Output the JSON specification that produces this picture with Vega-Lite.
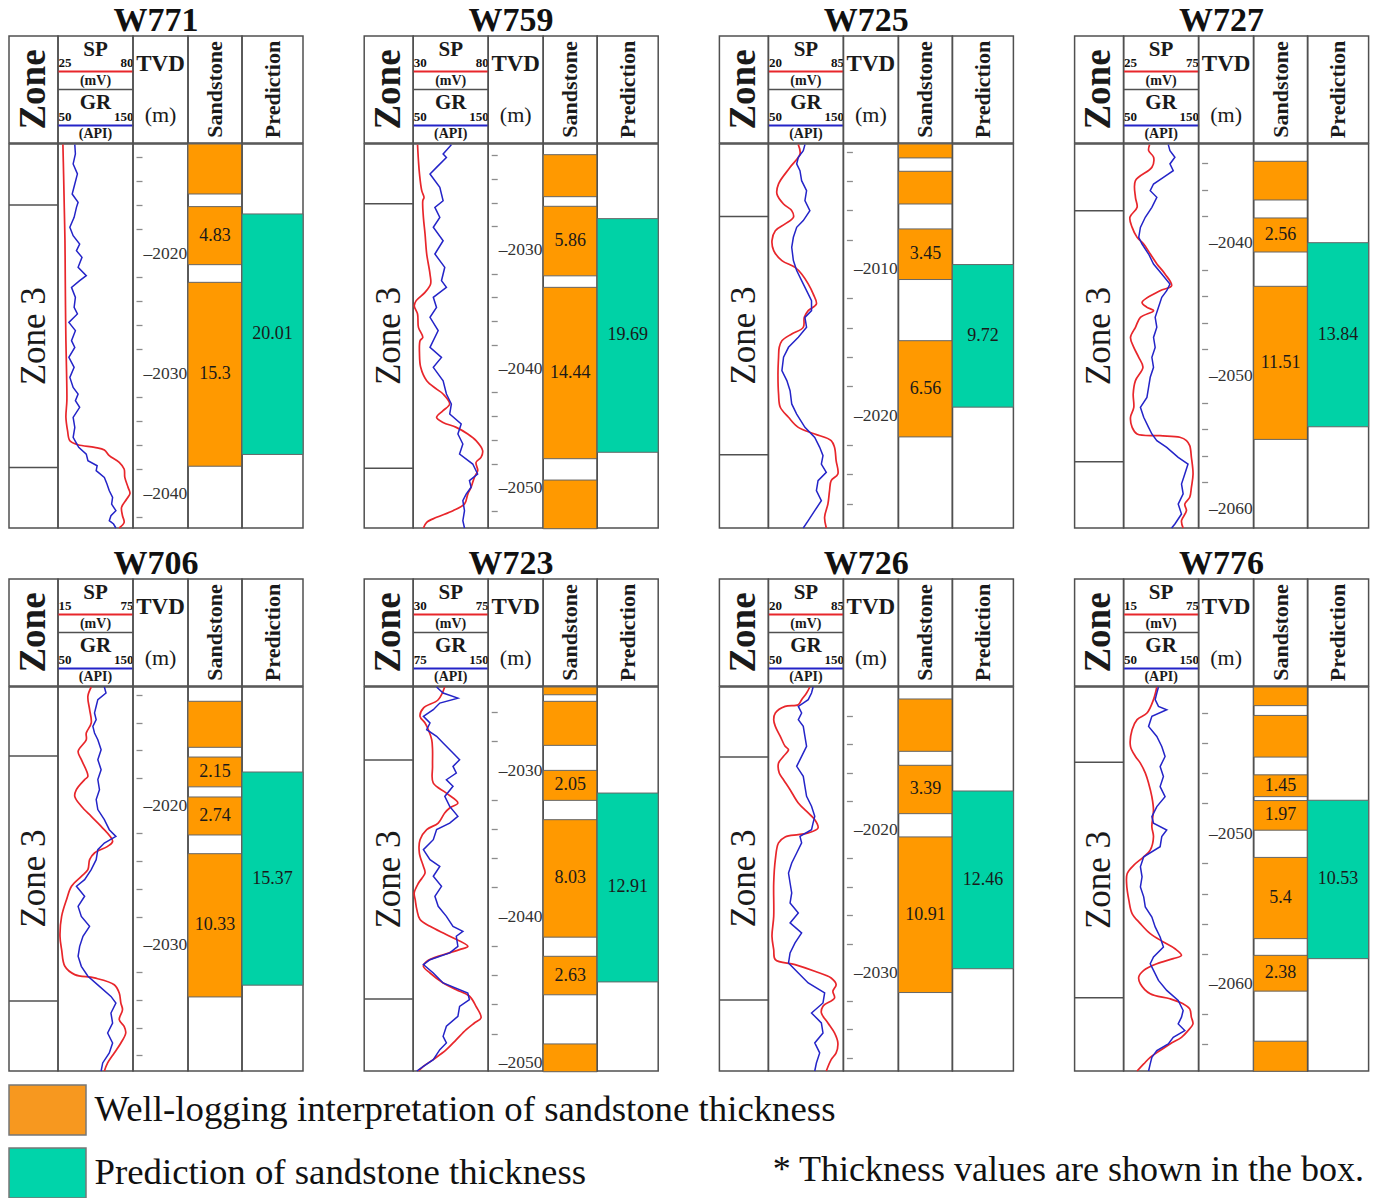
{
"$schema":"https://vega.github.io/schema/vega-lite/v6.json",
"background":"white",
"padding":{"left":7,"top":4,"right":0,"bottom":0},
"config":{
 "font":"Liberation Serif",
 "view":{"stroke":"#505050","strokeWidth":1.5},
 "title":{"fontSize":34,"fontWeight":"bold","color":"#111","anchor":"middle","offset":-3},
 "axis":{"grid":false,"ticks":false,"tickSize":0,"domain":false,"labelColor":"#111","labelFont":"Liberation Serif"},
 "text":{"color":"#1a1a1a"},
 "line":{"clip":true},
 "rect":{"clip":true}
},
"datasets":{
 "zones":[
  {"w":"W771","zone":"Zone 3","top":2016.0,"base":2037.85},
  {"w":"W759","zone":"Zone 3","top":2026.1,"base":2048.4},
  {"w":"W725","zone":"Zone 3","top":2006.43,"base":2022.66},
  {"w":"W727","zone":"Zone 3","top":2037.57,"base":2056.44},
  {"w":"W706","zone":"Zone 3","top":2016.42,"base":2034.09},
  {"w":"W723","zone":"Zone 3","top":2029.29,"base":2045.63},
  {"w":"W726","zone":"Zone 3","top":2014.91,"base":2031.94},
  {"w":"W776","zone":"Zone 3","top":2045.27,"base":2060.93}
 ],
 "beds":[
  {"w":"W771","top":2010.93,"t":4.16,"labelled":false},
  {"w":"W771","top":2016.14,"t":4.83,"labelled":true},
  {"w":"W771","top":2022.44,"t":15.3,"labelled":true},
  {"w":"W759","top":2021.97,"t":3.54,"labelled":false},
  {"w":"W759","top":2026.32,"t":5.86,"labelled":true},
  {"w":"W759","top":2033.15,"t":14.44,"labelled":true},
  {"w":"W759","top":2049.39,"t":4.1,"labelled":false},
  {"w":"W725","top":2001.48,"t":0.95,"labelled":false},
  {"w":"W725","top":2003.34,"t":2.23,"labelled":false},
  {"w":"W725","top":2007.27,"t":3.45,"labelled":true},
  {"w":"W725","top":2014.89,"t":6.56,"labelled":true},
  {"w":"W727","top":2033.86,"t":2.91,"labelled":false},
  {"w":"W727","top":2038.12,"t":2.56,"labelled":true},
  {"w":"W727","top":2043.26,"t":11.51,"labelled":true},
  {"w":"W706","top":2012.47,"t":3.32,"labelled":false},
  {"w":"W706","top":2016.49,"t":2.15,"labelled":true},
  {"w":"W706","top":2019.37,"t":2.74,"labelled":true},
  {"w":"W706","top":2023.46,"t":10.33,"labelled":true},
  {"w":"W723","top":2024.3,"t":0.53,"labelled":false},
  {"w":"W723","top":2025.28,"t":3.01,"labelled":false},
  {"w":"W723","top":2030.0,"t":2.05,"labelled":true},
  {"w":"W723","top":2033.37,"t":8.03,"labelled":true},
  {"w":"W723","top":2042.71,"t":2.63,"labelled":true},
  {"w":"W723","top":2048.7,"t":1.9,"labelled":false},
  {"w":"W726","top":2010.84,"t":3.67,"labelled":false},
  {"w":"W726","top":2015.49,"t":3.39,"labelled":true},
  {"w":"W726","top":2020.51,"t":10.91,"labelled":true},
  {"w":"W776","top":2040.27,"t":1.24,"labelled":false},
  {"w":"W776","top":2042.16,"t":2.77,"labelled":false},
  {"w":"W776","top":2046.11,"t":1.45,"labelled":true},
  {"w":"W776","top":2047.82,"t":1.97,"labelled":true},
  {"w":"W776","top":2051.6,"t":5.4,"labelled":true},
  {"w":"W776","top":2058.11,"t":2.38,"labelled":true},
  {"w":"W776","top":2063.82,"t":2.0,"labelled":false}
 ],
 "pred":[
  {"w":"W771","top":2016.75,"t":20.01},
  {"w":"W759","top":2027.36,"t":19.69},
  {"w":"W725","top":2009.7,"t":9.72},
  {"w":"W727","top":2039.98,"t":13.84},
  {"w":"W706","top":2017.57,"t":15.37},
  {"w":"W723","top":2031.55,"t":12.91},
  {"w":"W726","top":2017.29,"t":12.46},
  {"w":"W776","top":2047.8,"t":10.53}
 ],
 "logs":[
  {"w":"W771","c":"SP","p":[[2010.98,28.6],[2013.42,29.1],[2016.2,29.6],[2018.97,30.1],[2021.75,30.3],[2024.52,30.5],[2027.29,30.8],[2030.07,31.3],[2032.29,31.5],[2033.67,30.8],[2034.78,32.0],[2035.62,33.7],[2035.95,39.7],[2036.17,51.8],[2036.39,59.0],[2036.86,62.6],[2037.42,69.9],[2037.97,73.5],[2038.67,74.0],[2039.5,76.4],[2040.0,77.8],[2040.47,75.4],[2041.16,71.6],[2041.86,72.3],[2042.41,73.5],[2042.88,69.9]]},
  {"w":"W771","c":"GR","p":[[2010.98,72.4],[2011.76,73.2],[2012.59,70.2],[2013.42,75.9],[2014.26,72.4],[2015.09,68.9],[2015.78,76.8],[2016.2,74.6],[2017.03,71.5],[2017.86,65.8],[2018.56,70.2],[2019.25,78.9],[2019.8,74.6],[2020.36,82.0],[2021.19,76.8],[2021.88,87.7],[2022.3,78.9],[2022.86,68.0],[2023.69,73.2],[2024.52,71.5],[2025.07,75.9],[2025.77,64.5],[2026.46,73.2],[2027.29,68.0],[2027.85,72.4],[2028.68,64.5],[2029.51,71.5],[2030.35,65.8],[2031.18,70.2],[2031.73,76.8],[2032.29,73.2],[2032.84,78.9],[2033.67,70.2],[2034.51,72.4],[2035.34,70.2],[2036.17,77.6],[2036.73,87.7],[2037.28,89.9],[2037.7,102.2],[2038.11,100.9],[2038.67,111.8],[2039.22,115.3],[2039.78,118.4],[2040.33,122.8],[2040.89,121.5],[2041.44,127.2],[2041.86,120.6],[2042.27,118.4],[2042.55,124.1],[2042.88,127.2]]},
  {"w":"W759","c":"SP","p":[[2021.13,32.9],[2022.48,33.5],[2023.6,34.2],[2025.0,35.7],[2025.57,37.2],[2025.85,36.4],[2027.25,36.8],[2028.66,37.9],[2030.34,39.0],[2032.03,41.2],[2032.87,41.6],[2033.57,37.9],[2034.27,32.0],[2034.7,30.7],[2035.4,32.9],[2036.52,33.5],[2037.36,36.4],[2037.64,34.6],[2038.77,34.2],[2039.89,35.0],[2041.02,39.0],[2041.72,45.6],[2042.14,49.9],[2042.98,54.3],[2043.54,49.9],[2044.11,45.6],[2044.53,49.9],[2044.95,58.7],[2045.51,66.4],[2046.07,71.9],[2046.91,76.3],[2047.48,75.2],[2047.9,71.9],[2048.6,73.0],[2049.16,70.8],[2050.0,68.6],[2050.57,66.4],[2051.41,64.2],[2051.97,56.5],[2052.53,45.6],[2052.95,39.0],[2053.43,36.8]]},
  {"w":"W759","c":"GR","p":[[2021.13,100.9],[2021.91,89.9],[2022.2,94.3],[2023.04,81.1],[2023.6,72.4],[2024.72,85.5],[2025.85,89.9],[2026.41,78.9],[2027.25,85.5],[2028.09,76.8],[2029.22,89.9],[2030.34,78.9],[2031.46,92.1],[2032.59,87.7],[2033.15,94.3],[2033.99,76.8],[2034.84,81.1],[2035.68,72.4],[2036.8,83.3],[2038.21,72.4],[2039.05,87.7],[2039.89,76.8],[2041.02,89.9],[2042.14,94.3],[2042.98,100.9],[2043.82,98.7],[2044.67,114.0],[2045.51,109.6],[2046.35,116.2],[2047.2,111.8],[2048.04,129.4],[2048.88,135.9],[2049.44,125.0],[2050.0,127.2],[2050.57,120.6],[2051.13,116.2],[2051.97,118.4],[2052.81,116.2],[2053.43,118.4]]},
  {"w":"W725","c":"SP","p":[[2001.52,45.9],[2002.16,47.4],[2003.07,38.8],[2004.2,28.8],[2004.89,27.4],[2005.57,33.1],[2006.02,40.2],[2006.48,41.7],[2006.93,34.5],[2007.39,26.0],[2008.07,23.1],[2008.75,24.6],[2009.43,31.7],[2009.89,43.1],[2010.34,48.8],[2011.02,54.5],[2011.7,58.8],[2012.39,61.6],[2012.84,54.5],[2013.3,51.1],[2013.98,50.2],[2014.43,40.2],[2014.89,31.7],[2015.34,29.4],[2016.02,28.8],[2017.16,28.3],[2018.52,28.8],[2019.43,30.3],[2020.11,37.4],[2020.8,45.9],[2021.25,60.2],[2021.7,74.4],[2022.16,77.3],[2023.07,78.7],[2023.98,80.2],[2024.43,74.4],[2025.11,73.0],[2026.02,71.6],[2026.93,68.7],[2027.66,70.2]]},
  {"w":"W725","c":"GR","p":[[2001.52,98.7],[2001.93,96.5],[2002.39,89.9],[2002.84,87.7],[2003.3,92.1],[2003.98,94.3],[2004.66,100.9],[2005.34,98.7],[2006.02,105.3],[2006.7,96.5],[2007.16,87.7],[2007.84,83.3],[2008.52,81.1],[2009.43,83.3],[2010.11,87.7],[2010.8,94.3],[2011.48,100.9],[2012.16,107.5],[2012.84,107.5],[2013.3,98.7],[2013.98,100.9],[2014.66,89.9],[2015.34,76.8],[2016.02,70.2],[2016.93,68.0],[2017.61,74.6],[2018.3,78.9],[2019.2,81.1],[2019.89,87.7],[2020.8,98.7],[2021.48,111.8],[2022.16,118.4],[2022.73,122.8],[2023.3,120.6],[2023.86,127.2],[2024.43,116.2],[2025.11,114.0],[2025.8,120.6],[2026.48,111.8],[2027.16,103.1],[2027.66,96.5]]},
  {"w":"W727","c":"SP","p":[[2032.61,42.3],[2033.06,41.7],[2033.56,45.0],[2034.31,43.9],[2035.32,32.9],[2036.57,32.9],[2037.32,34.0],[2038.07,29.2],[2038.83,30.7],[2039.58,34.0],[2040.08,38.4],[2040.83,42.8],[2041.58,47.2],[2042.33,52.6],[2043.21,57.0],[2043.59,49.3],[2044.46,37.3],[2044.84,40.6],[2045.09,45.0],[2045.59,36.2],[2046.34,32.9],[2047.1,29.6],[2047.85,31.8],[2048.6,35.1],[2049.35,37.9],[2050.35,32.9],[2051.36,31.4],[2052.36,31.8],[2053.11,29.6],[2053.86,30.7],[2054.36,34.0],[2054.49,49.3],[2054.61,62.5],[2054.86,66.9],[2055.24,69.1],[2056.12,70.2],[2057.37,71.3],[2058.37,70.2],[2059.12,69.1],[2059.63,65.8],[2060.13,66.9],[2060.88,63.6],[2061.43,64.7]]},
  {"w":"W727","c":"GR","p":[[2032.61,109.6],[2033.06,111.8],[2033.56,118.4],[2034.06,111.8],[2034.57,116.2],[2035.07,103.1],[2035.57,89.9],[2036.07,85.5],[2036.57,94.3],[2037.32,87.7],[2038.07,78.9],[2038.83,72.4],[2039.58,70.2],[2040.08,74.6],[2040.83,83.3],[2041.58,89.9],[2042.33,100.9],[2043.09,111.8],[2043.59,107.5],[2044.09,100.9],[2044.84,96.5],[2045.59,92.1],[2046.34,94.3],[2047.1,89.9],[2047.85,92.1],[2048.6,87.7],[2049.35,89.9],[2050.1,85.5],[2050.85,83.3],[2051.61,81.1],[2052.36,72.4],[2053.11,76.8],[2053.86,83.3],[2054.36,87.7],[2054.86,94.3],[2055.37,107.5],[2056.12,122.8],[2056.62,135.9],[2057.37,131.6],[2058.12,127.2],[2058.87,129.4],[2059.63,122.8],[2060.38,127.2],[2061.13,118.4],[2061.43,114.0]]},
  {"w":"W706","c":"SP","p":[[2011.44,41.6],[2012.11,38.9],[2013.07,40.3],[2014.03,41.6],[2014.76,37.6],[2015.24,37.6],[2016.08,31.1],[2016.68,33.7],[2017.88,38.9],[2018.12,36.3],[2018.84,29.7],[2019.32,28.4],[2020.04,33.7],[2020.77,41.6],[2021.49,49.5],[2022.57,58.7],[2022.93,54.7],[2023.41,44.2],[2023.89,40.3],[2024.61,38.9],[2025.09,33.7],[2025.81,25.8],[2026.78,21.8],[2027.98,17.9],[2029.42,16.6],[2030.38,17.9],[2031.58,20.5],[2032.18,28.4],[2032.42,44.2],[2032.91,60.0],[2033.51,64.0],[2034.23,65.3],[2034.71,66.6],[2035.43,64.0],[2035.91,67.9],[2036.39,69.2],[2037.11,65.3],[2037.83,60.0],[2038.55,54.7],[2039.13,52.1]]},
  {"w":"W706","c":"GR","p":[[2011.44,111.8],[2011.87,114.0],[2012.35,103.1],[2012.83,100.9],[2013.31,98.7],[2013.79,100.9],[2014.28,96.5],[2014.76,98.7],[2015.24,103.1],[2015.96,107.5],[2016.68,103.1],[2017.4,107.5],[2018.12,103.1],[2018.84,105.3],[2019.56,100.9],[2020.28,103.1],[2021.01,111.8],[2021.73,118.4],[2022.21,127.2],[2022.69,111.8],[2023.17,103.1],[2023.89,100.9],[2024.61,94.3],[2025.33,85.5],[2025.81,74.6],[2026.53,85.5],[2027.26,76.8],[2027.98,81.1],[2028.7,92.1],[2029.42,83.3],[2030.14,78.9],[2030.86,76.8],[2031.58,81.1],[2032.3,89.9],[2033.03,105.3],[2033.75,120.6],[2034.23,127.2],[2034.95,120.6],[2035.67,122.8],[2036.39,116.2],[2037.11,122.8],[2037.83,118.4],[2038.55,109.6],[2039.13,107.5]]},
  {"w":"W723","c":"SP","p":[[2024.3,48.9],[2025.17,45.0],[2025.74,36.1],[2026.31,34.1],[2026.76,37.1],[2027.22,39.1],[2027.9,41.1],[2028.59,41.6],[2029.73,41.6],[2030.86,42.0],[2031.55,49.9],[2032.23,56.8],[2032.57,51.9],[2032.91,48.9],[2033.6,45.0],[2034.05,38.1],[2034.74,34.1],[2035.65,33.7],[2036.56,36.1],[2037.01,37.1],[2037.7,33.2],[2038.38,30.6],[2038.84,31.2],[2039.52,32.2],[2040.2,34.1],[2040.66,40.1],[2041.34,51.9],[2042.03,62.8],[2042.25,57.8],[2042.6,48.0],[2043.05,38.1],[2043.39,36.1],[2043.85,40.1],[2044.53,48.0],[2044.99,55.9],[2045.44,63.8],[2046.13,67.7],[2046.92,70.7],[2047.27,66.7],[2047.72,61.8],[2048.4,55.9],[2049.09,49.9],[2049.77,42.0],[2050.23,36.1],[2050.55,33.2]]},
  {"w":"W723","c":"GR","p":[[2024.3,98.4],[2024.71,104.9],[2025.06,119.7],[2025.4,101.6],[2025.85,95.1],[2026.31,85.2],[2026.76,91.8],[2027.22,88.5],[2027.67,98.4],[2028.13,104.9],[2028.81,114.8],[2029.27,121.4],[2029.73,114.8],[2030.18,118.1],[2030.64,108.2],[2031.09,114.8],[2031.78,106.6],[2032.46,111.5],[2033.14,119.7],[2033.6,111.5],[2034.05,98.4],[2034.74,95.1],[2035.42,85.2],[2036.1,91.8],[2036.56,101.6],[2037.24,95.1],[2037.93,103.3],[2038.61,96.7],[2039.29,100.0],[2039.98,108.2],[2040.66,114.8],[2041.0,124.7],[2041.34,118.1],[2042.03,119.7],[2042.48,111.5],[2042.94,91.8],[2043.28,85.2],[2043.85,95.1],[2044.53,104.9],[2045.22,129.6],[2045.67,131.2],[2046.13,121.4],[2046.81,119.7],[2047.49,108.2],[2048.18,104.9],[2048.63,108.2],[2049.09,101.6],[2049.77,95.1],[2050.23,85.2],[2050.55,78.6]]},
  {"w":"W726","c":"SP","p":[[2010.0,55.9],[2010.42,53.1],[2010.89,48.8],[2011.24,45.9],[2011.36,34.5],[2011.82,26.0],[2012.29,24.6],[2012.76,26.0],[2013.46,30.3],[2014.16,34.5],[2014.39,37.4],[2014.86,33.1],[2015.33,28.8],[2016.03,29.4],[2016.5,33.1],[2017.2,38.8],[2018.13,45.9],[2018.83,54.5],[2019.3,60.2],[2019.88,63.0],[2020.23,54.5],[2020.35,45.9],[2020.51,34.5],[2020.93,28.8],[2022.1,26.0],[2023.74,24.6],[2026.08,24.6],[2027.48,23.1],[2028.41,24.6],[2029.11,26.0],[2029.46,43.1],[2029.93,60.2],[2030.4,74.4],[2030.86,78.7],[2031.33,75.9],[2031.8,77.3],[2032.38,67.3],[2032.85,65.9],[2033.55,71.6],[2034.25,77.3],[2034.95,80.2],[2035.65,78.7],[2036.12,74.4],[2036.92,70.2]]},
  {"w":"W726","c":"GR","p":[[2010.0,109.6],[2010.42,107.5],[2010.89,103.1],[2011.36,89.9],[2011.82,94.3],[2012.29,89.9],[2012.76,96.5],[2013.46,98.7],[2014.16,100.9],[2014.86,94.3],[2015.56,87.7],[2016.26,96.5],[2016.96,98.7],[2017.66,100.9],[2018.36,107.5],[2019.07,111.8],[2019.53,109.6],[2020.0,107.5],[2020.47,92.1],[2020.93,94.3],[2021.64,87.7],[2022.34,81.1],[2023.04,76.8],[2023.74,78.9],[2024.44,81.1],[2025.14,78.9],[2025.84,89.9],[2026.54,78.9],[2027.24,94.3],[2027.94,85.5],[2028.64,78.9],[2029.35,76.8],[2030.05,89.9],[2030.75,103.1],[2031.45,125.0],[2032.15,122.8],[2032.85,107.5],[2033.55,120.6],[2034.25,122.8],[2034.95,111.8],[2035.65,118.4],[2036.36,114.0],[2036.92,111.8]]},
  {"w":"W776","c":"SP","p":[[2040.27,41.6],[2041.11,38.9],[2042.0,33.7],[2042.44,25.8],[2043.11,21.8],[2044.22,20.5],[2044.89,24.5],[2045.33,28.4],[2046.0,32.4],[2046.67,35.0],[2047.56,37.6],[2048.44,38.9],[2049.56,37.6],[2050.22,38.9],[2051.11,36.3],[2051.56,31.1],[2052.11,23.2],[2052.67,17.9],[2053.33,17.4],[2054.44,19.2],[2055.33,21.8],[2056.0,28.4],[2056.67,36.3],[2057.22,46.8],[2057.67,56.1],[2058.11,61.3],[2058.33,54.7],[2058.67,41.6],[2059.11,31.1],[2059.56,27.1],[2060.0,28.4],[2060.67,36.3],[2061.0,52.1],[2061.33,62.6],[2061.67,67.9],[2062.22,69.2],[2062.67,70.5],[2063.11,66.6],[2063.56,61.3],[2064.0,52.1],[2064.44,44.2],[2064.89,36.3],[2065.33,31.1],[2065.8,25.8]]},
  {"w":"W776","c":"GR","p":[[2040.27,96.5],[2040.67,94.3],[2041.11,92.1],[2041.56,96.5],[2041.78,107.5],[2042.22,87.7],[2042.89,83.3],[2043.56,94.3],[2044.22,100.9],[2044.89,105.3],[2045.56,98.7],[2046.22,103.1],[2046.89,98.7],[2047.56,105.3],[2048.22,94.3],[2048.89,87.7],[2049.33,89.9],[2049.78,107.5],[2050.22,100.9],[2050.89,98.7],[2051.56,76.8],[2052.22,72.4],[2052.89,74.6],[2053.56,72.4],[2054.22,76.8],[2054.89,78.9],[2055.56,87.7],[2056.22,92.1],[2056.89,98.7],[2057.56,103.1],[2058.22,89.9],[2058.67,85.5],[2059.11,89.9],[2059.78,96.5],[2060.44,107.5],[2061.11,122.8],[2061.78,129.4],[2062.22,127.2],[2062.67,122.8],[2063.11,131.6],[2063.56,116.2],[2064.0,109.6],[2064.44,94.3],[2064.89,87.7],[2065.33,85.5],[2065.8,83.3]]}
 ]
},
"spacing":8,
"vconcat":[
{"spacing":14,"vconcat":[
{"spacing":57.2,"hconcat":[
{"title":"W771","spacing":-6.5,"vconcat":[
{"bounds":"flush","spacing":0,"hconcat":[
{"width":49,"height":107,"data":{"values":[{}]},"mark":{"type":"text","text":"Zone","angle":270,"fontSize":37,"fontWeight":"bold"},"encoding":{"y":{"datum":0.5,"type":"quantitative","scale":{"domain":[0,1],"reverse":true,"nice":false,"zero":false},"axis":null}}},
{"width":75,"height":107,"data":{"values":[{}]},"resolve":{"scale":{"x":"independent"},"axis":{"x":"independent"}},"layer":[
{"mark":{"type":"rule","color":"#505050","strokeWidth":1.5},"encoding":{"x":{"datum":25,"type":"quantitative","scale":{"domain":[25,80],"nice":false,"zero":false},"axis":{"orient":"top","offset":-35,"values":[25,80],"domain":true,"domainColor":"#e8262b","domainWidth":2,"labelFlush":true,"labelPadding":2,"labelFontSize":13,"labelFontWeight":"bold","title":null}},"x2":{"datum":80}}},
{"mark":{"type":"text","text":"SP","fontSize":21,"fontWeight":"bold"},"encoding":{"y":{"datum":0.131,"type":"quantitative","scale":{"domain":[0,1],"reverse":true,"nice":false,"zero":false},"axis":null}}},
{"mark":{"type":"text","text":"(mV)","fontSize":14,"fontWeight":"bold"},"encoding":{"y":{"datum":0.42,"type":"quantitative","axis":null}}},
{"mark":{"type":"text","text":"GR","fontSize":21,"fontWeight":"bold"},"encoding":{"y":{"datum":0.626,"type":"quantitative","axis":null},"x":{"datum":100,"type":"quantitative","scale":{"domain":[50,150],"nice":false,"zero":false},"axis":{"orient":"top","offset":-89,"values":[50,150],"domain":true,"domainColor":"#2424c8","domainWidth":2,"labelFlush":true,"labelPadding":2,"labelFontSize":13,"labelFontWeight":"bold","title":null}}}},
{"mark":{"type":"text","text":"(API)","fontSize":14,"fontWeight":"bold"},"encoding":{"y":{"datum":0.916,"type":"quantitative","axis":null}}}]},
{"width":55,"height":107,"data":{"values":[{}]},"layer":[
{"mark":{"type":"text","text":"TVD","fontSize":23,"fontWeight":"bold"},"encoding":{"y":{"datum":0.262,"type":"quantitative","scale":{"domain":[0,1],"reverse":true,"nice":false,"zero":false},"axis":null}}},
{"mark":{"type":"text","text":"(m)","fontSize":22},"encoding":{"y":{"datum":0.738,"type":"quantitative","axis":null}}}]},
{"width":54,"height":107,"data":{"values":[{}]},"mark":{"type":"text","text":"Sandstone","angle":270,"fontSize":22,"fontWeight":"bold"},"encoding":{"y":{"datum":0.5,"type":"quantitative","scale":{"domain":[0,1],"reverse":true,"nice":false,"zero":false},"axis":null}}},
{"width":61,"height":107,"data":{"values":[{}]},"mark":{"type":"text","text":"Prediction","angle":270,"fontSize":22,"fontWeight":"bold"},"encoding":{"y":{"datum":0.5,"type":"quantitative","scale":{"domain":[0,1],"reverse":true,"nice":false,"zero":false},"axis":null}}}]},
{"bounds":"flush","spacing":0,"hconcat":[
{"width":49,"height":384,"data":{"name":"zones"},"transform":[{"filter":"datum.w=='W771'"},{"calculate":"(datum.top+datum.base)/2","as":"mid"}],"layer":[
{"mark":{"type":"rule","color":"#505050","strokeWidth":1.5},"encoding":{"y":{"field":"top","type":"quantitative","scale":{"domain":[2010.93,2042.88],"reverse":true,"nice":false,"zero":false},"axis":null}}},
{"mark":{"type":"rule","color":"#505050","strokeWidth":1.5},"encoding":{"y":{"field":"base","type":"quantitative","axis":null}}},
{"mark":{"type":"text","angle":270,"fontSize":35},"encoding":{"y":{"field":"mid","type":"quantitative","axis":null},"text":{"field":"zone"}}}]},
{"width":75,"height":384,"data":{"name":"logs"},"transform":[{"filter":"datum.w=='W771'"},{"flatten":["p"]},{"calculate":"datum.p[0]","as":"d"},{"calculate":"datum.p[1]","as":"v"}],"resolve":{"scale":{"x":"independent"}},"encoding":{"y":{"field":"d","type":"quantitative","scale":{"domain":[2010.93,2042.88],"reverse":true,"nice":false,"zero":false},"axis":null},"order":{"field":"d","type":"quantitative"}},"layer":[
{"transform":[{"filter":"datum.c=='SP'"}],"mark":{"type":"line","color":"#e8262b","strokeWidth":1.7,"interpolate":"catmull-rom"},"encoding":{"x":{"field":"v","type":"quantitative","scale":{"domain":[25,80],"nice":false,"zero":false},"axis":null}}},
{"transform":[{"filter":"datum.c=='GR'"}],"mark":{"type":"line","color":"#2424c8","strokeWidth":1.5},"encoding":{"x":{"field":"v","type":"quantitative","scale":{"domain":[50,150],"nice":false,"zero":false},"axis":null}}}]},
{"width":55,"height":384,"data":{"name":"zones"},"transform":[{"filter":"datum.w=='W771'"}],"mark":{"type":"rule","strokeOpacity":0},"encoding":{"y":{"field":"top","type":"quantitative","scale":{"domain":[2010.93,2042.88],"reverse":true,"nice":false,"zero":false},"axis":{"orient":"right","offset":-52,"values":[2012,2014,2016,2018,2020,2022,2024,2026,2028,2030,2032,2034,2036,2038,2040,2042],"format":"d","labelExpr":"datum.value % 10 == 0 ? '–' + datum.label : ''","ticks":true,"tickSize":6,"tickColor":"#8c8c8c","tickWidth":1.3,"tickOpacity":{"condition":{"test":"datum.value % 10 == 0","value":0},"value":1},"labelPadding":1,"labelFontSize":17.5,"labelColor":"#333","labelOverlap":false,"title":null}}}},
{"width":54,"height":384,"data":{"name":"beds"},"transform":[{"filter":"datum.w=='W771'"},{"calculate":"datum.top+datum.t","as":"base"},{"calculate":"datum.top+datum.t/2","as":"mid"}],"layer":[
{"mark":{"type":"rect","fill":"#ff9900","stroke":"#666","strokeWidth":1},"encoding":{"y":{"field":"top","type":"quantitative","scale":{"domain":[2010.93,2042.88],"reverse":true,"nice":false,"zero":false},"axis":null},"y2":{"field":"base"}}},
{"transform":[{"filter":"datum.labelled"}],"mark":{"type":"text","fontSize":18},"encoding":{"y":{"field":"mid","type":"quantitative","axis":null},"text":{"field":"t","type":"nominal"}}}]},
{"width":61,"height":384,"data":{"name":"pred"},"transform":[{"filter":"datum.w=='W771'"},{"calculate":"datum.top+datum.t","as":"base"},{"calculate":"datum.top+datum.t/2","as":"mid"}],"layer":[
{"mark":{"type":"rect","fill":"#00d2a6","stroke":"#666","strokeWidth":1},"encoding":{"y":{"field":"top","type":"quantitative","scale":{"domain":[2010.93,2042.88],"reverse":true,"nice":false,"zero":false},"axis":null},"y2":{"field":"base"}}},
{"mark":{"type":"text","fontSize":18},"encoding":{"y":{"field":"mid","type":"quantitative","axis":null},"text":{"field":"t","type":"nominal"}}}]}
]}]},
{"title":"W759","spacing":-6.5,"vconcat":[
{"bounds":"flush","spacing":0,"hconcat":[
{"width":49,"height":107,"data":{"values":[{}]},"mark":{"type":"text","text":"Zone","angle":270,"fontSize":37,"fontWeight":"bold"},"encoding":{"y":{"datum":0.5,"type":"quantitative","scale":{"domain":[0,1],"reverse":true,"nice":false,"zero":false},"axis":null}}},
{"width":75,"height":107,"data":{"values":[{}]},"resolve":{"scale":{"x":"independent"},"axis":{"x":"independent"}},"layer":[
{"mark":{"type":"rule","color":"#505050","strokeWidth":1.5},"encoding":{"x":{"datum":30,"type":"quantitative","scale":{"domain":[30,80],"nice":false,"zero":false},"axis":{"orient":"top","offset":-35,"values":[30,80],"domain":true,"domainColor":"#e8262b","domainWidth":2,"labelFlush":true,"labelPadding":2,"labelFontSize":13,"labelFontWeight":"bold","title":null}},"x2":{"datum":80}}},
{"mark":{"type":"text","text":"SP","fontSize":21,"fontWeight":"bold"},"encoding":{"y":{"datum":0.131,"type":"quantitative","scale":{"domain":[0,1],"reverse":true,"nice":false,"zero":false},"axis":null}}},
{"mark":{"type":"text","text":"(mV)","fontSize":14,"fontWeight":"bold"},"encoding":{"y":{"datum":0.42,"type":"quantitative","axis":null}}},
{"mark":{"type":"text","text":"GR","fontSize":21,"fontWeight":"bold"},"encoding":{"y":{"datum":0.626,"type":"quantitative","axis":null},"x":{"datum":100,"type":"quantitative","scale":{"domain":[50,150],"nice":false,"zero":false},"axis":{"orient":"top","offset":-89,"values":[50,150],"domain":true,"domainColor":"#2424c8","domainWidth":2,"labelFlush":true,"labelPadding":2,"labelFontSize":13,"labelFontWeight":"bold","title":null}}}},
{"mark":{"type":"text","text":"(API)","fontSize":14,"fontWeight":"bold"},"encoding":{"y":{"datum":0.916,"type":"quantitative","axis":null}}}]},
{"width":55,"height":107,"data":{"values":[{}]},"layer":[
{"mark":{"type":"text","text":"TVD","fontSize":23,"fontWeight":"bold"},"encoding":{"y":{"datum":0.262,"type":"quantitative","scale":{"domain":[0,1],"reverse":true,"nice":false,"zero":false},"axis":null}}},
{"mark":{"type":"text","text":"(m)","fontSize":22},"encoding":{"y":{"datum":0.738,"type":"quantitative","axis":null}}}]},
{"width":54,"height":107,"data":{"values":[{}]},"mark":{"type":"text","text":"Sandstone","angle":270,"fontSize":22,"fontWeight":"bold"},"encoding":{"y":{"datum":0.5,"type":"quantitative","scale":{"domain":[0,1],"reverse":true,"nice":false,"zero":false},"axis":null}}},
{"width":61,"height":107,"data":{"values":[{}]},"mark":{"type":"text","text":"Prediction","angle":270,"fontSize":22,"fontWeight":"bold"},"encoding":{"y":{"datum":0.5,"type":"quantitative","scale":{"domain":[0,1],"reverse":true,"nice":false,"zero":false},"axis":null}}}]},
{"bounds":"flush","spacing":0,"hconcat":[
{"width":49,"height":384,"data":{"name":"zones"},"transform":[{"filter":"datum.w=='W759'"},{"calculate":"(datum.top+datum.base)/2","as":"mid"}],"layer":[
{"mark":{"type":"rule","color":"#505050","strokeWidth":1.5},"encoding":{"y":{"field":"top","type":"quantitative","scale":{"domain":[2021.07,2053.43],"reverse":true,"nice":false,"zero":false},"axis":null}}},
{"mark":{"type":"rule","color":"#505050","strokeWidth":1.5},"encoding":{"y":{"field":"base","type":"quantitative","axis":null}}},
{"mark":{"type":"text","angle":270,"fontSize":35},"encoding":{"y":{"field":"mid","type":"quantitative","axis":null},"text":{"field":"zone"}}}]},
{"width":75,"height":384,"data":{"name":"logs"},"transform":[{"filter":"datum.w=='W759'"},{"flatten":["p"]},{"calculate":"datum.p[0]","as":"d"},{"calculate":"datum.p[1]","as":"v"}],"resolve":{"scale":{"x":"independent"}},"encoding":{"y":{"field":"d","type":"quantitative","scale":{"domain":[2021.07,2053.43],"reverse":true,"nice":false,"zero":false},"axis":null},"order":{"field":"d","type":"quantitative"}},"layer":[
{"transform":[{"filter":"datum.c=='SP'"}],"mark":{"type":"line","color":"#e8262b","strokeWidth":1.7,"interpolate":"catmull-rom"},"encoding":{"x":{"field":"v","type":"quantitative","scale":{"domain":[30,80],"nice":false,"zero":false},"axis":null}}},
{"transform":[{"filter":"datum.c=='GR'"}],"mark":{"type":"line","color":"#2424c8","strokeWidth":1.5},"encoding":{"x":{"field":"v","type":"quantitative","scale":{"domain":[50,150],"nice":false,"zero":false},"axis":null}}}]},
{"width":55,"height":384,"data":{"name":"zones"},"transform":[{"filter":"datum.w=='W759'"}],"mark":{"type":"rule","strokeOpacity":0},"encoding":{"y":{"field":"top","type":"quantitative","scale":{"domain":[2021.07,2053.43],"reverse":true,"nice":false,"zero":false},"axis":{"orient":"right","offset":-52,"values":[2022,2024,2026,2028,2030,2032,2034,2036,2038,2040,2042,2044,2046,2048,2050,2052],"format":"d","labelExpr":"datum.value % 10 == 0 ? '–' + datum.label : ''","ticks":true,"tickSize":6,"tickColor":"#8c8c8c","tickWidth":1.3,"tickOpacity":{"condition":{"test":"datum.value % 10 == 0","value":0},"value":1},"labelPadding":1,"labelFontSize":17.5,"labelColor":"#333","labelOverlap":false,"title":null}}}},
{"width":54,"height":384,"data":{"name":"beds"},"transform":[{"filter":"datum.w=='W759'"},{"calculate":"datum.top+datum.t","as":"base"},{"calculate":"datum.top+datum.t/2","as":"mid"}],"layer":[
{"mark":{"type":"rect","fill":"#ff9900","stroke":"#666","strokeWidth":1},"encoding":{"y":{"field":"top","type":"quantitative","scale":{"domain":[2021.07,2053.43],"reverse":true,"nice":false,"zero":false},"axis":null},"y2":{"field":"base"}}},
{"transform":[{"filter":"datum.labelled"}],"mark":{"type":"text","fontSize":18},"encoding":{"y":{"field":"mid","type":"quantitative","axis":null},"text":{"field":"t","type":"nominal"}}}]},
{"width":61,"height":384,"data":{"name":"pred"},"transform":[{"filter":"datum.w=='W759'"},{"calculate":"datum.top+datum.t","as":"base"},{"calculate":"datum.top+datum.t/2","as":"mid"}],"layer":[
{"mark":{"type":"rect","fill":"#00d2a6","stroke":"#666","strokeWidth":1},"encoding":{"y":{"field":"top","type":"quantitative","scale":{"domain":[2021.07,2053.43],"reverse":true,"nice":false,"zero":false},"axis":null},"y2":{"field":"base"}}},
{"mark":{"type":"text","fontSize":18},"encoding":{"y":{"field":"mid","type":"quantitative","axis":null},"text":{"field":"t","type":"nominal"}}}]}
]}]},
{"title":"W725","spacing":-6.5,"vconcat":[
{"bounds":"flush","spacing":0,"hconcat":[
{"width":49,"height":107,"data":{"values":[{}]},"mark":{"type":"text","text":"Zone","angle":270,"fontSize":37,"fontWeight":"bold"},"encoding":{"y":{"datum":0.5,"type":"quantitative","scale":{"domain":[0,1],"reverse":true,"nice":false,"zero":false},"axis":null}}},
{"width":75,"height":107,"data":{"values":[{}]},"resolve":{"scale":{"x":"independent"},"axis":{"x":"independent"}},"layer":[
{"mark":{"type":"rule","color":"#505050","strokeWidth":1.5},"encoding":{"x":{"datum":20,"type":"quantitative","scale":{"domain":[20,85],"nice":false,"zero":false},"axis":{"orient":"top","offset":-35,"values":[20,85],"domain":true,"domainColor":"#e8262b","domainWidth":2,"labelFlush":true,"labelPadding":2,"labelFontSize":13,"labelFontWeight":"bold","title":null}},"x2":{"datum":85}}},
{"mark":{"type":"text","text":"SP","fontSize":21,"fontWeight":"bold"},"encoding":{"y":{"datum":0.131,"type":"quantitative","scale":{"domain":[0,1],"reverse":true,"nice":false,"zero":false},"axis":null}}},
{"mark":{"type":"text","text":"(mV)","fontSize":14,"fontWeight":"bold"},"encoding":{"y":{"datum":0.42,"type":"quantitative","axis":null}}},
{"mark":{"type":"text","text":"GR","fontSize":21,"fontWeight":"bold"},"encoding":{"y":{"datum":0.626,"type":"quantitative","axis":null},"x":{"datum":100,"type":"quantitative","scale":{"domain":[50,150],"nice":false,"zero":false},"axis":{"orient":"top","offset":-89,"values":[50,150],"domain":true,"domainColor":"#2424c8","domainWidth":2,"labelFlush":true,"labelPadding":2,"labelFontSize":13,"labelFontWeight":"bold","title":null}}}},
{"mark":{"type":"text","text":"(API)","fontSize":14,"fontWeight":"bold"},"encoding":{"y":{"datum":0.916,"type":"quantitative","axis":null}}}]},
{"width":55,"height":107,"data":{"values":[{}]},"layer":[
{"mark":{"type":"text","text":"TVD","fontSize":23,"fontWeight":"bold"},"encoding":{"y":{"datum":0.262,"type":"quantitative","scale":{"domain":[0,1],"reverse":true,"nice":false,"zero":false},"axis":null}}},
{"mark":{"type":"text","text":"(m)","fontSize":22},"encoding":{"y":{"datum":0.738,"type":"quantitative","axis":null}}}]},
{"width":54,"height":107,"data":{"values":[{}]},"mark":{"type":"text","text":"Sandstone","angle":270,"fontSize":22,"fontWeight":"bold"},"encoding":{"y":{"datum":0.5,"type":"quantitative","scale":{"domain":[0,1],"reverse":true,"nice":false,"zero":false},"axis":null}}},
{"width":61,"height":107,"data":{"values":[{}]},"mark":{"type":"text","text":"Prediction","angle":270,"fontSize":22,"fontWeight":"bold"},"encoding":{"y":{"datum":0.5,"type":"quantitative","scale":{"domain":[0,1],"reverse":true,"nice":false,"zero":false},"axis":null}}}]},
{"bounds":"flush","spacing":0,"hconcat":[
{"width":49,"height":384,"data":{"name":"zones"},"transform":[{"filter":"datum.w=='W725'"},{"calculate":"(datum.top+datum.base)/2","as":"mid"}],"layer":[
{"mark":{"type":"rule","color":"#505050","strokeWidth":1.5},"encoding":{"y":{"field":"top","type":"quantitative","scale":{"domain":[2001.48,2027.66],"reverse":true,"nice":false,"zero":false},"axis":null}}},
{"mark":{"type":"rule","color":"#505050","strokeWidth":1.5},"encoding":{"y":{"field":"base","type":"quantitative","axis":null}}},
{"mark":{"type":"text","angle":270,"fontSize":35},"encoding":{"y":{"field":"mid","type":"quantitative","axis":null},"text":{"field":"zone"}}}]},
{"width":75,"height":384,"data":{"name":"logs"},"transform":[{"filter":"datum.w=='W725'"},{"flatten":["p"]},{"calculate":"datum.p[0]","as":"d"},{"calculate":"datum.p[1]","as":"v"}],"resolve":{"scale":{"x":"independent"}},"encoding":{"y":{"field":"d","type":"quantitative","scale":{"domain":[2001.48,2027.66],"reverse":true,"nice":false,"zero":false},"axis":null},"order":{"field":"d","type":"quantitative"}},"layer":[
{"transform":[{"filter":"datum.c=='SP'"}],"mark":{"type":"line","color":"#e8262b","strokeWidth":1.7,"interpolate":"catmull-rom"},"encoding":{"x":{"field":"v","type":"quantitative","scale":{"domain":[20,85],"nice":false,"zero":false},"axis":null}}},
{"transform":[{"filter":"datum.c=='GR'"}],"mark":{"type":"line","color":"#2424c8","strokeWidth":1.5},"encoding":{"x":{"field":"v","type":"quantitative","scale":{"domain":[50,150],"nice":false,"zero":false},"axis":null}}}]},
{"width":55,"height":384,"data":{"name":"zones"},"transform":[{"filter":"datum.w=='W725'"}],"mark":{"type":"rule","strokeOpacity":0},"encoding":{"y":{"field":"top","type":"quantitative","scale":{"domain":[2001.48,2027.66],"reverse":true,"nice":false,"zero":false},"axis":{"orient":"right","offset":-52,"values":[2002,2004,2006,2008,2010,2012,2014,2016,2018,2020,2022,2024,2026],"format":"d","labelExpr":"datum.value % 10 == 0 ? '–' + datum.label : ''","ticks":true,"tickSize":6,"tickColor":"#8c8c8c","tickWidth":1.3,"tickOpacity":{"condition":{"test":"datum.value % 10 == 0","value":0},"value":1},"labelPadding":1,"labelFontSize":17.5,"labelColor":"#333","labelOverlap":false,"title":null}}}},
{"width":54,"height":384,"data":{"name":"beds"},"transform":[{"filter":"datum.w=='W725'"},{"calculate":"datum.top+datum.t","as":"base"},{"calculate":"datum.top+datum.t/2","as":"mid"}],"layer":[
{"mark":{"type":"rect","fill":"#ff9900","stroke":"#666","strokeWidth":1},"encoding":{"y":{"field":"top","type":"quantitative","scale":{"domain":[2001.48,2027.66],"reverse":true,"nice":false,"zero":false},"axis":null},"y2":{"field":"base"}}},
{"transform":[{"filter":"datum.labelled"}],"mark":{"type":"text","fontSize":18},"encoding":{"y":{"field":"mid","type":"quantitative","axis":null},"text":{"field":"t","type":"nominal"}}}]},
{"width":61,"height":384,"data":{"name":"pred"},"transform":[{"filter":"datum.w=='W725'"},{"calculate":"datum.top+datum.t","as":"base"},{"calculate":"datum.top+datum.t/2","as":"mid"}],"layer":[
{"mark":{"type":"rect","fill":"#00d2a6","stroke":"#666","strokeWidth":1},"encoding":{"y":{"field":"top","type":"quantitative","scale":{"domain":[2001.48,2027.66],"reverse":true,"nice":false,"zero":false},"axis":null},"y2":{"field":"base"}}},
{"mark":{"type":"text","fontSize":18},"encoding":{"y":{"field":"mid","type":"quantitative","axis":null},"text":{"field":"t","type":"nominal"}}}]}
]}]},
{"title":"W727","spacing":-6.5,"vconcat":[
{"bounds":"flush","spacing":0,"hconcat":[
{"width":49,"height":107,"data":{"values":[{}]},"mark":{"type":"text","text":"Zone","angle":270,"fontSize":37,"fontWeight":"bold"},"encoding":{"y":{"datum":0.5,"type":"quantitative","scale":{"domain":[0,1],"reverse":true,"nice":false,"zero":false},"axis":null}}},
{"width":75,"height":107,"data":{"values":[{}]},"resolve":{"scale":{"x":"independent"},"axis":{"x":"independent"}},"layer":[
{"mark":{"type":"rule","color":"#505050","strokeWidth":1.5},"encoding":{"x":{"datum":25,"type":"quantitative","scale":{"domain":[25,75],"nice":false,"zero":false},"axis":{"orient":"top","offset":-35,"values":[25,75],"domain":true,"domainColor":"#e8262b","domainWidth":2,"labelFlush":true,"labelPadding":2,"labelFontSize":13,"labelFontWeight":"bold","title":null}},"x2":{"datum":75}}},
{"mark":{"type":"text","text":"SP","fontSize":21,"fontWeight":"bold"},"encoding":{"y":{"datum":0.131,"type":"quantitative","scale":{"domain":[0,1],"reverse":true,"nice":false,"zero":false},"axis":null}}},
{"mark":{"type":"text","text":"(mV)","fontSize":14,"fontWeight":"bold"},"encoding":{"y":{"datum":0.42,"type":"quantitative","axis":null}}},
{"mark":{"type":"text","text":"GR","fontSize":21,"fontWeight":"bold"},"encoding":{"y":{"datum":0.626,"type":"quantitative","axis":null},"x":{"datum":100,"type":"quantitative","scale":{"domain":[50,150],"nice":false,"zero":false},"axis":{"orient":"top","offset":-89,"values":[50,150],"domain":true,"domainColor":"#2424c8","domainWidth":2,"labelFlush":true,"labelPadding":2,"labelFontSize":13,"labelFontWeight":"bold","title":null}}}},
{"mark":{"type":"text","text":"(API)","fontSize":14,"fontWeight":"bold"},"encoding":{"y":{"datum":0.916,"type":"quantitative","axis":null}}}]},
{"width":55,"height":107,"data":{"values":[{}]},"layer":[
{"mark":{"type":"text","text":"TVD","fontSize":23,"fontWeight":"bold"},"encoding":{"y":{"datum":0.262,"type":"quantitative","scale":{"domain":[0,1],"reverse":true,"nice":false,"zero":false},"axis":null}}},
{"mark":{"type":"text","text":"(m)","fontSize":22},"encoding":{"y":{"datum":0.738,"type":"quantitative","axis":null}}}]},
{"width":54,"height":107,"data":{"values":[{}]},"mark":{"type":"text","text":"Sandstone","angle":270,"fontSize":22,"fontWeight":"bold"},"encoding":{"y":{"datum":0.5,"type":"quantitative","scale":{"domain":[0,1],"reverse":true,"nice":false,"zero":false},"axis":null}}},
{"width":61,"height":107,"data":{"values":[{}]},"mark":{"type":"text","text":"Prediction","angle":270,"fontSize":22,"fontWeight":"bold"},"encoding":{"y":{"datum":0.5,"type":"quantitative","scale":{"domain":[0,1],"reverse":true,"nice":false,"zero":false},"axis":null}}}]},
{"bounds":"flush","spacing":0,"hconcat":[
{"width":49,"height":384,"data":{"name":"zones"},"transform":[{"filter":"datum.w=='W727'"},{"calculate":"(datum.top+datum.base)/2","as":"mid"}],"layer":[
{"mark":{"type":"rule","color":"#505050","strokeWidth":1.5},"encoding":{"y":{"field":"top","type":"quantitative","scale":{"domain":[2032.56,2061.43],"reverse":true,"nice":false,"zero":false},"axis":null}}},
{"mark":{"type":"rule","color":"#505050","strokeWidth":1.5},"encoding":{"y":{"field":"base","type":"quantitative","axis":null}}},
{"mark":{"type":"text","angle":270,"fontSize":35},"encoding":{"y":{"field":"mid","type":"quantitative","axis":null},"text":{"field":"zone"}}}]},
{"width":75,"height":384,"data":{"name":"logs"},"transform":[{"filter":"datum.w=='W727'"},{"flatten":["p"]},{"calculate":"datum.p[0]","as":"d"},{"calculate":"datum.p[1]","as":"v"}],"resolve":{"scale":{"x":"independent"}},"encoding":{"y":{"field":"d","type":"quantitative","scale":{"domain":[2032.56,2061.43],"reverse":true,"nice":false,"zero":false},"axis":null},"order":{"field":"d","type":"quantitative"}},"layer":[
{"transform":[{"filter":"datum.c=='SP'"}],"mark":{"type":"line","color":"#e8262b","strokeWidth":1.7,"interpolate":"catmull-rom"},"encoding":{"x":{"field":"v","type":"quantitative","scale":{"domain":[25,75],"nice":false,"zero":false},"axis":null}}},
{"transform":[{"filter":"datum.c=='GR'"}],"mark":{"type":"line","color":"#2424c8","strokeWidth":1.5},"encoding":{"x":{"field":"v","type":"quantitative","scale":{"domain":[50,150],"nice":false,"zero":false},"axis":null}}}]},
{"width":55,"height":384,"data":{"name":"zones"},"transform":[{"filter":"datum.w=='W727'"}],"mark":{"type":"rule","strokeOpacity":0},"encoding":{"y":{"field":"top","type":"quantitative","scale":{"domain":[2032.56,2061.43],"reverse":true,"nice":false,"zero":false},"axis":{"orient":"right","offset":-52,"values":[2034,2036,2038,2040,2042,2044,2046,2048,2050,2052,2054,2056,2058,2060],"format":"d","labelExpr":"datum.value % 10 == 0 ? '–' + datum.label : ''","ticks":true,"tickSize":6,"tickColor":"#8c8c8c","tickWidth":1.3,"tickOpacity":{"condition":{"test":"datum.value % 10 == 0","value":0},"value":1},"labelPadding":1,"labelFontSize":17.5,"labelColor":"#333","labelOverlap":false,"title":null}}}},
{"width":54,"height":384,"data":{"name":"beds"},"transform":[{"filter":"datum.w=='W727'"},{"calculate":"datum.top+datum.t","as":"base"},{"calculate":"datum.top+datum.t/2","as":"mid"}],"layer":[
{"mark":{"type":"rect","fill":"#ff9900","stroke":"#666","strokeWidth":1},"encoding":{"y":{"field":"top","type":"quantitative","scale":{"domain":[2032.56,2061.43],"reverse":true,"nice":false,"zero":false},"axis":null},"y2":{"field":"base"}}},
{"transform":[{"filter":"datum.labelled"}],"mark":{"type":"text","fontSize":18},"encoding":{"y":{"field":"mid","type":"quantitative","axis":null},"text":{"field":"t","type":"nominal"}}}]},
{"width":61,"height":384,"data":{"name":"pred"},"transform":[{"filter":"datum.w=='W727'"},{"calculate":"datum.top+datum.t","as":"base"},{"calculate":"datum.top+datum.t/2","as":"mid"}],"layer":[
{"mark":{"type":"rect","fill":"#00d2a6","stroke":"#666","strokeWidth":1},"encoding":{"y":{"field":"top","type":"quantitative","scale":{"domain":[2032.56,2061.43],"reverse":true,"nice":false,"zero":false},"axis":null},"y2":{"field":"base"}}},
{"mark":{"type":"text","fontSize":18},"encoding":{"y":{"field":"mid","type":"quantitative","axis":null},"text":{"field":"t","type":"nominal"}}}]}
]}]}
]},
{"spacing":57.2,"hconcat":[
{"title":"W706","spacing":-6.5,"vconcat":[
{"bounds":"flush","spacing":0,"hconcat":[
{"width":49,"height":107,"data":{"values":[{}]},"mark":{"type":"text","text":"Zone","angle":270,"fontSize":37,"fontWeight":"bold"},"encoding":{"y":{"datum":0.5,"type":"quantitative","scale":{"domain":[0,1],"reverse":true,"nice":false,"zero":false},"axis":null}}},
{"width":75,"height":107,"data":{"values":[{}]},"resolve":{"scale":{"x":"independent"},"axis":{"x":"independent"}},"layer":[
{"mark":{"type":"rule","color":"#505050","strokeWidth":1.5},"encoding":{"x":{"datum":15,"type":"quantitative","scale":{"domain":[15,75],"nice":false,"zero":false},"axis":{"orient":"top","offset":-35,"values":[15,75],"domain":true,"domainColor":"#e8262b","domainWidth":2,"labelFlush":true,"labelPadding":2,"labelFontSize":13,"labelFontWeight":"bold","title":null}},"x2":{"datum":75}}},
{"mark":{"type":"text","text":"SP","fontSize":21,"fontWeight":"bold"},"encoding":{"y":{"datum":0.131,"type":"quantitative","scale":{"domain":[0,1],"reverse":true,"nice":false,"zero":false},"axis":null}}},
{"mark":{"type":"text","text":"(mV)","fontSize":14,"fontWeight":"bold"},"encoding":{"y":{"datum":0.42,"type":"quantitative","axis":null}}},
{"mark":{"type":"text","text":"GR","fontSize":21,"fontWeight":"bold"},"encoding":{"y":{"datum":0.626,"type":"quantitative","axis":null},"x":{"datum":100,"type":"quantitative","scale":{"domain":[50,150],"nice":false,"zero":false},"axis":{"orient":"top","offset":-89,"values":[50,150],"domain":true,"domainColor":"#2424c8","domainWidth":2,"labelFlush":true,"labelPadding":2,"labelFontSize":13,"labelFontWeight":"bold","title":null}}}},
{"mark":{"type":"text","text":"(API)","fontSize":14,"fontWeight":"bold"},"encoding":{"y":{"datum":0.916,"type":"quantitative","axis":null}}}]},
{"width":55,"height":107,"data":{"values":[{}]},"layer":[
{"mark":{"type":"text","text":"TVD","fontSize":23,"fontWeight":"bold"},"encoding":{"y":{"datum":0.262,"type":"quantitative","scale":{"domain":[0,1],"reverse":true,"nice":false,"zero":false},"axis":null}}},
{"mark":{"type":"text","text":"(m)","fontSize":22},"encoding":{"y":{"datum":0.738,"type":"quantitative","axis":null}}}]},
{"width":54,"height":107,"data":{"values":[{}]},"mark":{"type":"text","text":"Sandstone","angle":270,"fontSize":22,"fontWeight":"bold"},"encoding":{"y":{"datum":0.5,"type":"quantitative","scale":{"domain":[0,1],"reverse":true,"nice":false,"zero":false},"axis":null}}},
{"width":61,"height":107,"data":{"values":[{}]},"mark":{"type":"text","text":"Prediction","angle":270,"fontSize":22,"fontWeight":"bold"},"encoding":{"y":{"datum":0.5,"type":"quantitative","scale":{"domain":[0,1],"reverse":true,"nice":false,"zero":false},"axis":null}}}]},
{"bounds":"flush","spacing":0,"hconcat":[
{"width":49,"height":384,"data":{"name":"zones"},"transform":[{"filter":"datum.w=='W706'"},{"calculate":"(datum.top+datum.base)/2","as":"mid"}],"layer":[
{"mark":{"type":"rule","color":"#505050","strokeWidth":1.5},"encoding":{"y":{"field":"top","type":"quantitative","scale":{"domain":[2011.44,2039.13],"reverse":true,"nice":false,"zero":false},"axis":null}}},
{"mark":{"type":"rule","color":"#505050","strokeWidth":1.5},"encoding":{"y":{"field":"base","type":"quantitative","axis":null}}},
{"mark":{"type":"text","angle":270,"fontSize":35},"encoding":{"y":{"field":"mid","type":"quantitative","axis":null},"text":{"field":"zone"}}}]},
{"width":75,"height":384,"data":{"name":"logs"},"transform":[{"filter":"datum.w=='W706'"},{"flatten":["p"]},{"calculate":"datum.p[0]","as":"d"},{"calculate":"datum.p[1]","as":"v"}],"resolve":{"scale":{"x":"independent"}},"encoding":{"y":{"field":"d","type":"quantitative","scale":{"domain":[2011.44,2039.13],"reverse":true,"nice":false,"zero":false},"axis":null},"order":{"field":"d","type":"quantitative"}},"layer":[
{"transform":[{"filter":"datum.c=='SP'"}],"mark":{"type":"line","color":"#e8262b","strokeWidth":1.7,"interpolate":"catmull-rom"},"encoding":{"x":{"field":"v","type":"quantitative","scale":{"domain":[15,75],"nice":false,"zero":false},"axis":null}}},
{"transform":[{"filter":"datum.c=='GR'"}],"mark":{"type":"line","color":"#2424c8","strokeWidth":1.5},"encoding":{"x":{"field":"v","type":"quantitative","scale":{"domain":[50,150],"nice":false,"zero":false},"axis":null}}}]},
{"width":55,"height":384,"data":{"name":"zones"},"transform":[{"filter":"datum.w=='W706'"}],"mark":{"type":"rule","strokeOpacity":0},"encoding":{"y":{"field":"top","type":"quantitative","scale":{"domain":[2011.44,2039.13],"reverse":true,"nice":false,"zero":false},"axis":{"orient":"right","offset":-52,"values":[2012,2014,2016,2018,2020,2022,2024,2026,2028,2030,2032,2034,2036,2038],"format":"d","labelExpr":"datum.value % 10 == 0 ? '–' + datum.label : ''","ticks":true,"tickSize":6,"tickColor":"#8c8c8c","tickWidth":1.3,"tickOpacity":{"condition":{"test":"datum.value % 10 == 0","value":0},"value":1},"labelPadding":1,"labelFontSize":17.5,"labelColor":"#333","labelOverlap":false,"title":null}}}},
{"width":54,"height":384,"data":{"name":"beds"},"transform":[{"filter":"datum.w=='W706'"},{"calculate":"datum.top+datum.t","as":"base"},{"calculate":"datum.top+datum.t/2","as":"mid"}],"layer":[
{"mark":{"type":"rect","fill":"#ff9900","stroke":"#666","strokeWidth":1},"encoding":{"y":{"field":"top","type":"quantitative","scale":{"domain":[2011.44,2039.13],"reverse":true,"nice":false,"zero":false},"axis":null},"y2":{"field":"base"}}},
{"transform":[{"filter":"datum.labelled"}],"mark":{"type":"text","fontSize":18},"encoding":{"y":{"field":"mid","type":"quantitative","axis":null},"text":{"field":"t","type":"nominal"}}}]},
{"width":61,"height":384,"data":{"name":"pred"},"transform":[{"filter":"datum.w=='W706'"},{"calculate":"datum.top+datum.t","as":"base"},{"calculate":"datum.top+datum.t/2","as":"mid"}],"layer":[
{"mark":{"type":"rect","fill":"#00d2a6","stroke":"#666","strokeWidth":1},"encoding":{"y":{"field":"top","type":"quantitative","scale":{"domain":[2011.44,2039.13],"reverse":true,"nice":false,"zero":false},"axis":null},"y2":{"field":"base"}}},
{"mark":{"type":"text","fontSize":18},"encoding":{"y":{"field":"mid","type":"quantitative","axis":null},"text":{"field":"t","type":"nominal"}}}]}
]}]},
{"title":"W723","spacing":-6.5,"vconcat":[
{"bounds":"flush","spacing":0,"hconcat":[
{"width":49,"height":107,"data":{"values":[{}]},"mark":{"type":"text","text":"Zone","angle":270,"fontSize":37,"fontWeight":"bold"},"encoding":{"y":{"datum":0.5,"type":"quantitative","scale":{"domain":[0,1],"reverse":true,"nice":false,"zero":false},"axis":null}}},
{"width":75,"height":107,"data":{"values":[{}]},"resolve":{"scale":{"x":"independent"},"axis":{"x":"independent"}},"layer":[
{"mark":{"type":"rule","color":"#505050","strokeWidth":1.5},"encoding":{"x":{"datum":30,"type":"quantitative","scale":{"domain":[30,75],"nice":false,"zero":false},"axis":{"orient":"top","offset":-35,"values":[30,75],"domain":true,"domainColor":"#e8262b","domainWidth":2,"labelFlush":true,"labelPadding":2,"labelFontSize":13,"labelFontWeight":"bold","title":null}},"x2":{"datum":75}}},
{"mark":{"type":"text","text":"SP","fontSize":21,"fontWeight":"bold"},"encoding":{"y":{"datum":0.131,"type":"quantitative","scale":{"domain":[0,1],"reverse":true,"nice":false,"zero":false},"axis":null}}},
{"mark":{"type":"text","text":"(mV)","fontSize":14,"fontWeight":"bold"},"encoding":{"y":{"datum":0.42,"type":"quantitative","axis":null}}},
{"mark":{"type":"text","text":"GR","fontSize":21,"fontWeight":"bold"},"encoding":{"y":{"datum":0.626,"type":"quantitative","axis":null},"x":{"datum":112.5,"type":"quantitative","scale":{"domain":[75,150],"nice":false,"zero":false},"axis":{"orient":"top","offset":-89,"values":[75,150],"domain":true,"domainColor":"#2424c8","domainWidth":2,"labelFlush":true,"labelPadding":2,"labelFontSize":13,"labelFontWeight":"bold","title":null}}}},
{"mark":{"type":"text","text":"(API)","fontSize":14,"fontWeight":"bold"},"encoding":{"y":{"datum":0.916,"type":"quantitative","axis":null}}}]},
{"width":55,"height":107,"data":{"values":[{}]},"layer":[
{"mark":{"type":"text","text":"TVD","fontSize":23,"fontWeight":"bold"},"encoding":{"y":{"datum":0.262,"type":"quantitative","scale":{"domain":[0,1],"reverse":true,"nice":false,"zero":false},"axis":null}}},
{"mark":{"type":"text","text":"(m)","fontSize":22},"encoding":{"y":{"datum":0.738,"type":"quantitative","axis":null}}}]},
{"width":54,"height":107,"data":{"values":[{}]},"mark":{"type":"text","text":"Sandstone","angle":270,"fontSize":22,"fontWeight":"bold"},"encoding":{"y":{"datum":0.5,"type":"quantitative","scale":{"domain":[0,1],"reverse":true,"nice":false,"zero":false},"axis":null}}},
{"width":61,"height":107,"data":{"values":[{}]},"mark":{"type":"text","text":"Prediction","angle":270,"fontSize":22,"fontWeight":"bold"},"encoding":{"y":{"datum":0.5,"type":"quantitative","scale":{"domain":[0,1],"reverse":true,"nice":false,"zero":false},"axis":null}}}]},
{"bounds":"flush","spacing":0,"hconcat":[
{"width":49,"height":384,"data":{"name":"zones"},"transform":[{"filter":"datum.w=='W723'"},{"calculate":"(datum.top+datum.base)/2","as":"mid"}],"layer":[
{"mark":{"type":"rule","color":"#505050","strokeWidth":1.5},"encoding":{"y":{"field":"top","type":"quantitative","scale":{"domain":[2024.3,2050.55],"reverse":true,"nice":false,"zero":false},"axis":null}}},
{"mark":{"type":"rule","color":"#505050","strokeWidth":1.5},"encoding":{"y":{"field":"base","type":"quantitative","axis":null}}},
{"mark":{"type":"text","angle":270,"fontSize":35},"encoding":{"y":{"field":"mid","type":"quantitative","axis":null},"text":{"field":"zone"}}}]},
{"width":75,"height":384,"data":{"name":"logs"},"transform":[{"filter":"datum.w=='W723'"},{"flatten":["p"]},{"calculate":"datum.p[0]","as":"d"},{"calculate":"datum.p[1]","as":"v"}],"resolve":{"scale":{"x":"independent"}},"encoding":{"y":{"field":"d","type":"quantitative","scale":{"domain":[2024.3,2050.55],"reverse":true,"nice":false,"zero":false},"axis":null},"order":{"field":"d","type":"quantitative"}},"layer":[
{"transform":[{"filter":"datum.c=='SP'"}],"mark":{"type":"line","color":"#e8262b","strokeWidth":1.7,"interpolate":"catmull-rom"},"encoding":{"x":{"field":"v","type":"quantitative","scale":{"domain":[30,75],"nice":false,"zero":false},"axis":null}}},
{"transform":[{"filter":"datum.c=='GR'"}],"mark":{"type":"line","color":"#2424c8","strokeWidth":1.5},"encoding":{"x":{"field":"v","type":"quantitative","scale":{"domain":[75,150],"nice":false,"zero":false},"axis":null}}}]},
{"width":55,"height":384,"data":{"name":"zones"},"transform":[{"filter":"datum.w=='W723'"}],"mark":{"type":"rule","strokeOpacity":0},"encoding":{"y":{"field":"top","type":"quantitative","scale":{"domain":[2024.3,2050.55],"reverse":true,"nice":false,"zero":false},"axis":{"orient":"right","offset":-52,"values":[2026,2028,2030,2032,2034,2036,2038,2040,2042,2044,2046,2048,2050],"format":"d","labelExpr":"datum.value % 10 == 0 ? '–' + datum.label : ''","ticks":true,"tickSize":6,"tickColor":"#8c8c8c","tickWidth":1.3,"tickOpacity":{"condition":{"test":"datum.value % 10 == 0","value":0},"value":1},"labelPadding":1,"labelFontSize":17.5,"labelColor":"#333","labelOverlap":false,"title":null}}}},
{"width":54,"height":384,"data":{"name":"beds"},"transform":[{"filter":"datum.w=='W723'"},{"calculate":"datum.top+datum.t","as":"base"},{"calculate":"datum.top+datum.t/2","as":"mid"}],"layer":[
{"mark":{"type":"rect","fill":"#ff9900","stroke":"#666","strokeWidth":1},"encoding":{"y":{"field":"top","type":"quantitative","scale":{"domain":[2024.3,2050.55],"reverse":true,"nice":false,"zero":false},"axis":null},"y2":{"field":"base"}}},
{"transform":[{"filter":"datum.labelled"}],"mark":{"type":"text","fontSize":18},"encoding":{"y":{"field":"mid","type":"quantitative","axis":null},"text":{"field":"t","type":"nominal"}}}]},
{"width":61,"height":384,"data":{"name":"pred"},"transform":[{"filter":"datum.w=='W723'"},{"calculate":"datum.top+datum.t","as":"base"},{"calculate":"datum.top+datum.t/2","as":"mid"}],"layer":[
{"mark":{"type":"rect","fill":"#00d2a6","stroke":"#666","strokeWidth":1},"encoding":{"y":{"field":"top","type":"quantitative","scale":{"domain":[2024.3,2050.55],"reverse":true,"nice":false,"zero":false},"axis":null},"y2":{"field":"base"}}},
{"mark":{"type":"text","fontSize":18},"encoding":{"y":{"field":"mid","type":"quantitative","axis":null},"text":{"field":"t","type":"nominal"}}}]}
]}]},
{"title":"W726","spacing":-6.5,"vconcat":[
{"bounds":"flush","spacing":0,"hconcat":[
{"width":49,"height":107,"data":{"values":[{}]},"mark":{"type":"text","text":"Zone","angle":270,"fontSize":37,"fontWeight":"bold"},"encoding":{"y":{"datum":0.5,"type":"quantitative","scale":{"domain":[0,1],"reverse":true,"nice":false,"zero":false},"axis":null}}},
{"width":75,"height":107,"data":{"values":[{}]},"resolve":{"scale":{"x":"independent"},"axis":{"x":"independent"}},"layer":[
{"mark":{"type":"rule","color":"#505050","strokeWidth":1.5},"encoding":{"x":{"datum":20,"type":"quantitative","scale":{"domain":[20,85],"nice":false,"zero":false},"axis":{"orient":"top","offset":-35,"values":[20,85],"domain":true,"domainColor":"#e8262b","domainWidth":2,"labelFlush":true,"labelPadding":2,"labelFontSize":13,"labelFontWeight":"bold","title":null}},"x2":{"datum":85}}},
{"mark":{"type":"text","text":"SP","fontSize":21,"fontWeight":"bold"},"encoding":{"y":{"datum":0.131,"type":"quantitative","scale":{"domain":[0,1],"reverse":true,"nice":false,"zero":false},"axis":null}}},
{"mark":{"type":"text","text":"(mV)","fontSize":14,"fontWeight":"bold"},"encoding":{"y":{"datum":0.42,"type":"quantitative","axis":null}}},
{"mark":{"type":"text","text":"GR","fontSize":21,"fontWeight":"bold"},"encoding":{"y":{"datum":0.626,"type":"quantitative","axis":null},"x":{"datum":100,"type":"quantitative","scale":{"domain":[50,150],"nice":false,"zero":false},"axis":{"orient":"top","offset":-89,"values":[50,150],"domain":true,"domainColor":"#2424c8","domainWidth":2,"labelFlush":true,"labelPadding":2,"labelFontSize":13,"labelFontWeight":"bold","title":null}}}},
{"mark":{"type":"text","text":"(API)","fontSize":14,"fontWeight":"bold"},"encoding":{"y":{"datum":0.916,"type":"quantitative","axis":null}}}]},
{"width":55,"height":107,"data":{"values":[{}]},"layer":[
{"mark":{"type":"text","text":"TVD","fontSize":23,"fontWeight":"bold"},"encoding":{"y":{"datum":0.262,"type":"quantitative","scale":{"domain":[0,1],"reverse":true,"nice":false,"zero":false},"axis":null}}},
{"mark":{"type":"text","text":"(m)","fontSize":22},"encoding":{"y":{"datum":0.738,"type":"quantitative","axis":null}}}]},
{"width":54,"height":107,"data":{"values":[{}]},"mark":{"type":"text","text":"Sandstone","angle":270,"fontSize":22,"fontWeight":"bold"},"encoding":{"y":{"datum":0.5,"type":"quantitative","scale":{"domain":[0,1],"reverse":true,"nice":false,"zero":false},"axis":null}}},
{"width":61,"height":107,"data":{"values":[{}]},"mark":{"type":"text","text":"Prediction","angle":270,"fontSize":22,"fontWeight":"bold"},"encoding":{"y":{"datum":0.5,"type":"quantitative","scale":{"domain":[0,1],"reverse":true,"nice":false,"zero":false},"axis":null}}}]},
{"bounds":"flush","spacing":0,"hconcat":[
{"width":49,"height":384,"data":{"name":"zones"},"transform":[{"filter":"datum.w=='W726'"},{"calculate":"(datum.top+datum.base)/2","as":"mid"}],"layer":[
{"mark":{"type":"rule","color":"#505050","strokeWidth":1.5},"encoding":{"y":{"field":"top","type":"quantitative","scale":{"domain":[2010.0,2036.92],"reverse":true,"nice":false,"zero":false},"axis":null}}},
{"mark":{"type":"rule","color":"#505050","strokeWidth":1.5},"encoding":{"y":{"field":"base","type":"quantitative","axis":null}}},
{"mark":{"type":"text","angle":270,"fontSize":35},"encoding":{"y":{"field":"mid","type":"quantitative","axis":null},"text":{"field":"zone"}}}]},
{"width":75,"height":384,"data":{"name":"logs"},"transform":[{"filter":"datum.w=='W726'"},{"flatten":["p"]},{"calculate":"datum.p[0]","as":"d"},{"calculate":"datum.p[1]","as":"v"}],"resolve":{"scale":{"x":"independent"}},"encoding":{"y":{"field":"d","type":"quantitative","scale":{"domain":[2010.0,2036.92],"reverse":true,"nice":false,"zero":false},"axis":null},"order":{"field":"d","type":"quantitative"}},"layer":[
{"transform":[{"filter":"datum.c=='SP'"}],"mark":{"type":"line","color":"#e8262b","strokeWidth":1.7,"interpolate":"catmull-rom"},"encoding":{"x":{"field":"v","type":"quantitative","scale":{"domain":[20,85],"nice":false,"zero":false},"axis":null}}},
{"transform":[{"filter":"datum.c=='GR'"}],"mark":{"type":"line","color":"#2424c8","strokeWidth":1.5},"encoding":{"x":{"field":"v","type":"quantitative","scale":{"domain":[50,150],"nice":false,"zero":false},"axis":null}}}]},
{"width":55,"height":384,"data":{"name":"zones"},"transform":[{"filter":"datum.w=='W726'"}],"mark":{"type":"rule","strokeOpacity":0},"encoding":{"y":{"field":"top","type":"quantitative","scale":{"domain":[2010.0,2036.92],"reverse":true,"nice":false,"zero":false},"axis":{"orient":"right","offset":-52,"values":[2012,2014,2016,2018,2020,2022,2024,2026,2028,2030,2032,2034,2036],"format":"d","labelExpr":"datum.value % 10 == 0 ? '–' + datum.label : ''","ticks":true,"tickSize":6,"tickColor":"#8c8c8c","tickWidth":1.3,"tickOpacity":{"condition":{"test":"datum.value % 10 == 0","value":0},"value":1},"labelPadding":1,"labelFontSize":17.5,"labelColor":"#333","labelOverlap":false,"title":null}}}},
{"width":54,"height":384,"data":{"name":"beds"},"transform":[{"filter":"datum.w=='W726'"},{"calculate":"datum.top+datum.t","as":"base"},{"calculate":"datum.top+datum.t/2","as":"mid"}],"layer":[
{"mark":{"type":"rect","fill":"#ff9900","stroke":"#666","strokeWidth":1},"encoding":{"y":{"field":"top","type":"quantitative","scale":{"domain":[2010.0,2036.92],"reverse":true,"nice":false,"zero":false},"axis":null},"y2":{"field":"base"}}},
{"transform":[{"filter":"datum.labelled"}],"mark":{"type":"text","fontSize":18},"encoding":{"y":{"field":"mid","type":"quantitative","axis":null},"text":{"field":"t","type":"nominal"}}}]},
{"width":61,"height":384,"data":{"name":"pred"},"transform":[{"filter":"datum.w=='W726'"},{"calculate":"datum.top+datum.t","as":"base"},{"calculate":"datum.top+datum.t/2","as":"mid"}],"layer":[
{"mark":{"type":"rect","fill":"#00d2a6","stroke":"#666","strokeWidth":1},"encoding":{"y":{"field":"top","type":"quantitative","scale":{"domain":[2010.0,2036.92],"reverse":true,"nice":false,"zero":false},"axis":null},"y2":{"field":"base"}}},
{"mark":{"type":"text","fontSize":18},"encoding":{"y":{"field":"mid","type":"quantitative","axis":null},"text":{"field":"t","type":"nominal"}}}]}
]}]},
{"title":"W776","spacing":-6.5,"vconcat":[
{"bounds":"flush","spacing":0,"hconcat":[
{"width":49,"height":107,"data":{"values":[{}]},"mark":{"type":"text","text":"Zone","angle":270,"fontSize":37,"fontWeight":"bold"},"encoding":{"y":{"datum":0.5,"type":"quantitative","scale":{"domain":[0,1],"reverse":true,"nice":false,"zero":false},"axis":null}}},
{"width":75,"height":107,"data":{"values":[{}]},"resolve":{"scale":{"x":"independent"},"axis":{"x":"independent"}},"layer":[
{"mark":{"type":"rule","color":"#505050","strokeWidth":1.5},"encoding":{"x":{"datum":15,"type":"quantitative","scale":{"domain":[15,75],"nice":false,"zero":false},"axis":{"orient":"top","offset":-35,"values":[15,75],"domain":true,"domainColor":"#e8262b","domainWidth":2,"labelFlush":true,"labelPadding":2,"labelFontSize":13,"labelFontWeight":"bold","title":null}},"x2":{"datum":75}}},
{"mark":{"type":"text","text":"SP","fontSize":21,"fontWeight":"bold"},"encoding":{"y":{"datum":0.131,"type":"quantitative","scale":{"domain":[0,1],"reverse":true,"nice":false,"zero":false},"axis":null}}},
{"mark":{"type":"text","text":"(mV)","fontSize":14,"fontWeight":"bold"},"encoding":{"y":{"datum":0.42,"type":"quantitative","axis":null}}},
{"mark":{"type":"text","text":"GR","fontSize":21,"fontWeight":"bold"},"encoding":{"y":{"datum":0.626,"type":"quantitative","axis":null},"x":{"datum":100,"type":"quantitative","scale":{"domain":[50,150],"nice":false,"zero":false},"axis":{"orient":"top","offset":-89,"values":[50,150],"domain":true,"domainColor":"#2424c8","domainWidth":2,"labelFlush":true,"labelPadding":2,"labelFontSize":13,"labelFontWeight":"bold","title":null}}}},
{"mark":{"type":"text","text":"(API)","fontSize":14,"fontWeight":"bold"},"encoding":{"y":{"datum":0.916,"type":"quantitative","axis":null}}}]},
{"width":55,"height":107,"data":{"values":[{}]},"layer":[
{"mark":{"type":"text","text":"TVD","fontSize":23,"fontWeight":"bold"},"encoding":{"y":{"datum":0.262,"type":"quantitative","scale":{"domain":[0,1],"reverse":true,"nice":false,"zero":false},"axis":null}}},
{"mark":{"type":"text","text":"(m)","fontSize":22},"encoding":{"y":{"datum":0.738,"type":"quantitative","axis":null}}}]},
{"width":54,"height":107,"data":{"values":[{}]},"mark":{"type":"text","text":"Sandstone","angle":270,"fontSize":22,"fontWeight":"bold"},"encoding":{"y":{"datum":0.5,"type":"quantitative","scale":{"domain":[0,1],"reverse":true,"nice":false,"zero":false},"axis":null}}},
{"width":61,"height":107,"data":{"values":[{}]},"mark":{"type":"text","text":"Prediction","angle":270,"fontSize":22,"fontWeight":"bold"},"encoding":{"y":{"datum":0.5,"type":"quantitative","scale":{"domain":[0,1],"reverse":true,"nice":false,"zero":false},"axis":null}}}]},
{"bounds":"flush","spacing":0,"hconcat":[
{"width":49,"height":384,"data":{"name":"zones"},"transform":[{"filter":"datum.w=='W776'"},{"calculate":"(datum.top+datum.base)/2","as":"mid"}],"layer":[
{"mark":{"type":"rule","color":"#505050","strokeWidth":1.5},"encoding":{"y":{"field":"top","type":"quantitative","scale":{"domain":[2040.27,2065.8],"reverse":true,"nice":false,"zero":false},"axis":null}}},
{"mark":{"type":"rule","color":"#505050","strokeWidth":1.5},"encoding":{"y":{"field":"base","type":"quantitative","axis":null}}},
{"mark":{"type":"text","angle":270,"fontSize":35},"encoding":{"y":{"field":"mid","type":"quantitative","axis":null},"text":{"field":"zone"}}}]},
{"width":75,"height":384,"data":{"name":"logs"},"transform":[{"filter":"datum.w=='W776'"},{"flatten":["p"]},{"calculate":"datum.p[0]","as":"d"},{"calculate":"datum.p[1]","as":"v"}],"resolve":{"scale":{"x":"independent"}},"encoding":{"y":{"field":"d","type":"quantitative","scale":{"domain":[2040.27,2065.8],"reverse":true,"nice":false,"zero":false},"axis":null},"order":{"field":"d","type":"quantitative"}},"layer":[
{"transform":[{"filter":"datum.c=='SP'"}],"mark":{"type":"line","color":"#e8262b","strokeWidth":1.7,"interpolate":"catmull-rom"},"encoding":{"x":{"field":"v","type":"quantitative","scale":{"domain":[15,75],"nice":false,"zero":false},"axis":null}}},
{"transform":[{"filter":"datum.c=='GR'"}],"mark":{"type":"line","color":"#2424c8","strokeWidth":1.5},"encoding":{"x":{"field":"v","type":"quantitative","scale":{"domain":[50,150],"nice":false,"zero":false},"axis":null}}}]},
{"width":55,"height":384,"data":{"name":"zones"},"transform":[{"filter":"datum.w=='W776'"}],"mark":{"type":"rule","strokeOpacity":0},"encoding":{"y":{"field":"top","type":"quantitative","scale":{"domain":[2040.27,2065.8],"reverse":true,"nice":false,"zero":false},"axis":{"orient":"right","offset":-52,"values":[2042,2044,2046,2048,2050,2052,2054,2056,2058,2060,2062,2064],"format":"d","labelExpr":"datum.value % 10 == 0 ? '–' + datum.label : ''","ticks":true,"tickSize":6,"tickColor":"#8c8c8c","tickWidth":1.3,"tickOpacity":{"condition":{"test":"datum.value % 10 == 0","value":0},"value":1},"labelPadding":1,"labelFontSize":17.5,"labelColor":"#333","labelOverlap":false,"title":null}}}},
{"width":54,"height":384,"data":{"name":"beds"},"transform":[{"filter":"datum.w=='W776'"},{"calculate":"datum.top+datum.t","as":"base"},{"calculate":"datum.top+datum.t/2","as":"mid"}],"layer":[
{"mark":{"type":"rect","fill":"#ff9900","stroke":"#666","strokeWidth":1},"encoding":{"y":{"field":"top","type":"quantitative","scale":{"domain":[2040.27,2065.8],"reverse":true,"nice":false,"zero":false},"axis":null},"y2":{"field":"base"}}},
{"transform":[{"filter":"datum.labelled"}],"mark":{"type":"text","fontSize":18},"encoding":{"y":{"field":"mid","type":"quantitative","axis":null},"text":{"field":"t","type":"nominal"}}}]},
{"width":61,"height":384,"data":{"name":"pred"},"transform":[{"filter":"datum.w=='W776'"},{"calculate":"datum.top+datum.t","as":"base"},{"calculate":"datum.top+datum.t/2","as":"mid"}],"layer":[
{"mark":{"type":"rect","fill":"#00d2a6","stroke":"#666","strokeWidth":1},"encoding":{"y":{"field":"top","type":"quantitative","scale":{"domain":[2040.27,2065.8],"reverse":true,"nice":false,"zero":false},"axis":null},"y2":{"field":"base"}}},
{"mark":{"type":"text","fontSize":18},"encoding":{"y":{"field":"mid","type":"quantitative","axis":null},"text":{"field":"t","type":"nominal"}}}]}
]}]}
]}
]},
{"bounds":"flush","spacing":0,"hconcat":[
{"width":77,"height":113,"view":{"stroke":null},"data":{"values":[{"item":"Well-logging interpretation of sandstone thickness"},{"item":"Prediction of sandstone thickness"}]},"mark":{"type":"rect","stroke":"#777","strokeWidth":1.5},"encoding":{"y":{"field":"item","type":"nominal","sort":null,"scale":{"paddingInner":0.206,"paddingOuter":0},"axis":{"orient":"right","labelPadding":8,"labelFontSize":36.8,"labelLimit":0,"labelColor":"#111","title":null}},"color":{"field":"item","type":"nominal","scale":{"domain":["Well-logging interpretation of sandstone thickness","Prediction of sandstone thickness"],"range":["#f7981f","#00d4aa"]},"legend":null}}},
{"width":1278,"height":113,"view":{"stroke":null},"data":{"values":[{"note":"* Thickness values are shown in the box."}]},"mark":{"type":"text","align":"right","fontSize":36,"color":"#111"},"encoding":{"text":{"field":"note"},"x":{"value":"width"},"y":{"datum":"Prediction of sandstone thickness","type":"nominal","scale":{"domain":["Well-logging interpretation of sandstone thickness","Prediction of sandstone thickness"],"paddingInner":0.206,"paddingOuter":0},"axis":null}}}
]}
]}
